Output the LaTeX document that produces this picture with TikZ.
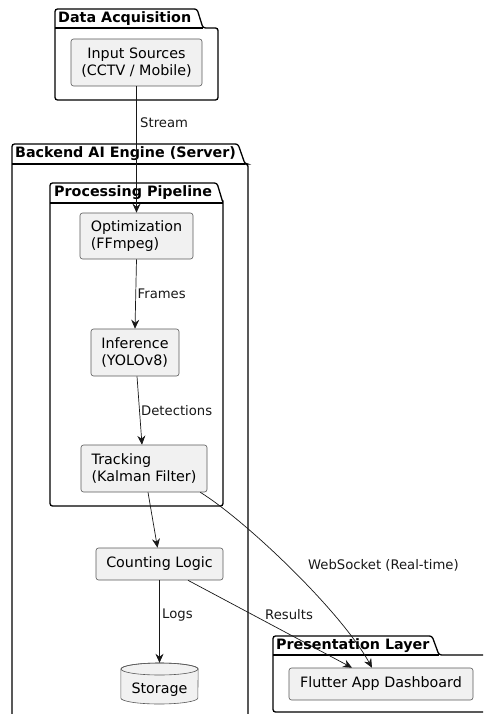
\documentclass[tikz,border=0pt]{standalone}
\usepackage{fontspec}
\setmainfont{DejaVu Sans}
\usetikzlibrary{arrows.meta}
\definecolor{boxfill}{HTML}{F1F1F1}
\definecolor{boxline}{HTML}{5A5A5A}
\definecolor{inkcol}{HTML}{181818}
\newcommand\boxfont{\fontsize{14.3}{16.5}\selectfont}
\newcommand\lblfont{\fontsize{13.2}{15}\selectfont}
\newcommand\titlefont{\fontsize{14.3}{16}\selectfont\bfseries}
\newcommand\pkgframe[7]{%
  \draw[pkg] (#1,#3) -- (#1,#2) -- (#4,#2) -- (#5,#3) -- (#6,#3) -- (#6,#7) -- (#1,#7) -- cycle;
  \draw[pkg] (#1,#3) -- (#5,#3);}
\tikzset{
  box/.style={draw=boxline, fill=boxfill, rounded corners=2.5pt, line width=0.6pt,
    inner sep=0pt, align=left, font=\boxfont, text=black},
  pkg/.style={draw=black, line width=1.3pt, rounded corners=2.5pt},
  lbl/.style={font=\lblfont, inner sep=0pt, anchor=west, text=inkcol},
  ptitle/.style={font=\titlefont, inner sep=0pt, anchor=west, text=black},
  arr/.style={-{Stealth[length=9pt,width=8pt,inset=3pt]}, line width=0.7pt, draw=inkcol},
}
\begin{document}
\begin{tikzpicture}[x=1pt,y=-1pt]
\useasboundingbox (0,0) rectangle (483,714);
\clip (0,0) rectangle (483,714);
\fill[white] (0,0) rectangle (483,714);

% packages
\pkgframe{55}{9}{28}{197}{203}{218}{100}
\node[ptitle] (tda) at (58,18.5) {Data Acquisition};

\pkgframe{12}{144}{164}{238}{245}{248}{722}
\node[ptitle] (tbe) at (15,153.5) {Backend AI Engine (Server)};

\pkgframe{50}{183}{203}{217}{223}{223}{506}
\node[ptitle] (tpp) at (54,192.5) {Processing Pipeline};

\pkgframe{273}{636}{655}{432}{439}{492}{712}
\node[ptitle] (tpl) at (276,645.5) {Presentation Layer};

% boxes
\node[box, align=center, minimum width=131pt, minimum height=47pt] (in) at (136.5,62.5) {Input Sources\\(CCTV / Mobile)};
\node[box, minimum width=113pt, minimum height=46pt] (opt) at (136.5,236) {Optimization\\(FFmpeg)};
\node[box, minimum width=88pt, minimum height=47pt] (inf) at (135,352.5) {Inference\\(YOLOv8)};
\node[box, minimum width=126pt, minimum height=47pt] (trk) at (144,468.5) {Tracking\\(Kalman Filter)};
\node[box, minimum width=127pt, minimum height=32pt] (cnt) at (159.5,564) {Counting Logic};
\node[box, minimum width=184pt, minimum height=32pt] (fl) at (381,684) {Flutter App Dashboard};

% storage cylinder
\node[inner sep=0pt, minimum width=77pt, minimum height=41pt] (sto) at (159.5,683.5) {};
\draw[fill=boxfill, draw=boxline, line width=0.6pt]
  (sto.west |- 0,669) -- (sto.west |- 0,698) arc (180:360:38.5pt and 6pt) -- (sto.east |- 0,669) arc (0:180:38.5pt and 6pt) -- cycle;
\draw[draw=boxline, line width=0.6pt] (159.5,669) ellipse [x radius=38.5pt, y radius=6pt];
\node[font=\boxfont, inner sep=0pt, text=black] (stot) at (159.5,690) {Storage};

% connectors
\draw[arr] (in.south) -- (opt.north);
\node[lbl] (lstream) at (140,123) {Stream};
\draw[arr] (opt.south) -- (inf.north);
\node[lbl] (lframes) at (137.5,294) {Frames};
\draw[arr] ([xshift=2pt]inf.south) -- ([xshift=-2pt]trk.north);
\node[lbl] (ldet) at (141,411) {Detections};
\draw[arr] ([xshift=4pt]trk.south) -- ([xshift=-2pt]cnt.north);
\draw[arr] (cnt.south) -- (sto.north);
\node[lbl] (llogs) at (162,615) {Logs};
\draw[arr] ([xshift=28.5pt]cnt.south) -- ([xshift=-29pt]fl.north);
\node[lbl] (lres) at (265,615) {Results};
\draw[arr] ([xshift=-7pt]trk.south east) .. controls (245,520) and (340,610) .. ([xshift=-9pt]fl.north);
\node[lbl] (lws) at (308,565) {WebSocket (Real-time)};
\end{tikzpicture}
\end{document}
